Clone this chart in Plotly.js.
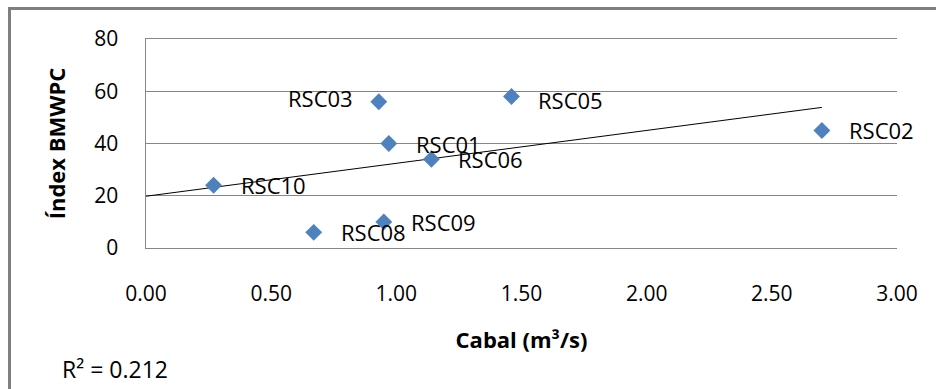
<!DOCTYPE html>
<html>
<head>
<meta charset="utf-8">
<script src="https://cdn.plot.ly/plotly-3.0.1.min.js"></script>
<style>
  html, body { margin: 0; padding: 0; background: #fff; }
  #wrap { position: relative; width: 936px; height: 389px; overflow: hidden; }
  #frame { position: absolute; left: 8px; top: 7px; width: 940px; height: 400px;
           border-left: 3px solid #7f7f7f; border-top: 3px solid #7f7f7f; box-sizing: border-box; }
  #chart { position: absolute; left: 0; top: 0; width: 936px; height: 389px; }
</style>
</head>
<body>
<div id="wrap">
  <div id="frame"></div>
  <div id="chart"></div>
</div>
<script>
// ---- data ----
const sites  = ['RSC10', 'RSC08', 'RSC09', 'RSC03', 'RSC01', 'RSC06', 'RSC05', 'RSC02'];
const cabal  = [0.27, 0.67, 0.95, 0.93, 0.97, 1.14, 1.46, 2.70];   // m3/s
const bmwpc  = [24, 6, 10, 56, 40, 34, 58, 45];                     // Índex BMWPC
const xTicks = [0, 0.5, 1, 1.5, 2, 2.5, 3];
const xTickLabels = ['0.00', '0.50', '1.00', '1.50', '2.00', '2.50', '3.00'];
const yTicks = [0, 20, 40, 60, 80];
const r2Label = 'R\u00b2 = 0.212';

// ---- linear trendline (least squares) ----
const n = cabal.length;
const mx = cabal.reduce((a, b) => a + b, 0) / n;
const my = bmwpc.reduce((a, b) => a + b, 0) / n;
let sxy = 0, sxx = 0;
for (let i = 0; i < n; i++) { sxy += (cabal[i] - mx) * (bmwpc[i] - my); sxx += (cabal[i] - mx) ** 2; }
const slope = sxy / sxx, intercept = my - slope * mx;
const xMax = Math.max(...cabal);
const trendX = [0, xMax];
const trendY = trendX.map(x => intercept + slope * x);

const FONT = 'Open Sans, Noto Sans, sans-serif';
// label placement (style only)
const leftLabelled = new Set(['RSC03']);
const labelNudgeY = { RSC03: 4, RSC05: -4 };

const annotations = sites.map((s, i) => ({
  x: cabal[i], y: bmwpc[i], xref: 'x', yref: 'y', text: s, showarrow: false,
  xanchor: leftLabelled.has(s) ? 'right' : 'left',
  xshift: leftLabelled.has(s) ? -24 : 25,
  yshift: labelNudgeY[s] || 0,
  font: { family: FONT, size: 22, color: '#000' }
}));
annotations.push({
  xref: 'paper', yref: 'paper', x: -0.114, y: -0.578, xanchor: 'left', yanchor: 'middle',
  text: r2Label, showarrow: false, font: { family: FONT, size: 23, color: '#000' }
});

const data = [
  { x: trendX, y: trendY, mode: 'lines', type: 'scatter', line: { color: '#000', width: 1 },
    hoverinfo: 'skip', showlegend: false },
  { x: cabal, y: bmwpc, text: sites, mode: 'markers', type: 'scatter', showlegend: false,
    marker: { symbol: 'diamond', size: 13, color: '#4f81bd' } }
];

const layout = {
  width: 936, height: 389,
  margin: { l: 146, r: 39, t: 39, b: 141 },
  paper_bgcolor: 'rgba(0,0,0,0)', plot_bgcolor: 'rgba(0,0,0,0)',
  font: { family: FONT, size: 21, color: '#000' },
  showlegend: false,
  xaxis: {
    range: [0, 3], tickvals: xTicks, ticktext: xTickLabels, showgrid: false, zeroline: false,
    showline: true, mirror: true, linecolor: '#868686', linewidth: 1,
    ticks: '', ticklabelstandoff: 27,
    tickfont: { family: FONT, size: 21, color: '#000' },
    title: { text: '<b>Cabal (m\u00b3/s)</b>', font: { family: FONT, size: 22, color: '#000' }, standoff: 26 },
    automargin: false, fixedrange: true
  },
  yaxis: {
    range: [0, 80], tickvals: yTicks, showgrid: true, gridcolor: '#868686', gridwidth: 1,
    zeroline: false, showline: true, linecolor: '#868686', linewidth: 1.5, ticks: '',
    ticklabelstandoff: 22, tickfont: { family: FONT, size: 21, color: '#000' },
    title: { text: '<b>\u00cdndex BMWPC</b>', font: { family: FONT, size: 22, color: '#000' }, standoff: 22 },
    automargin: false, fixedrange: true
  },
  annotations: annotations
};

Plotly.newPlot('chart', data, layout, { staticPlot: true, displayModeBar: false });
</script>
</body>
</html>
